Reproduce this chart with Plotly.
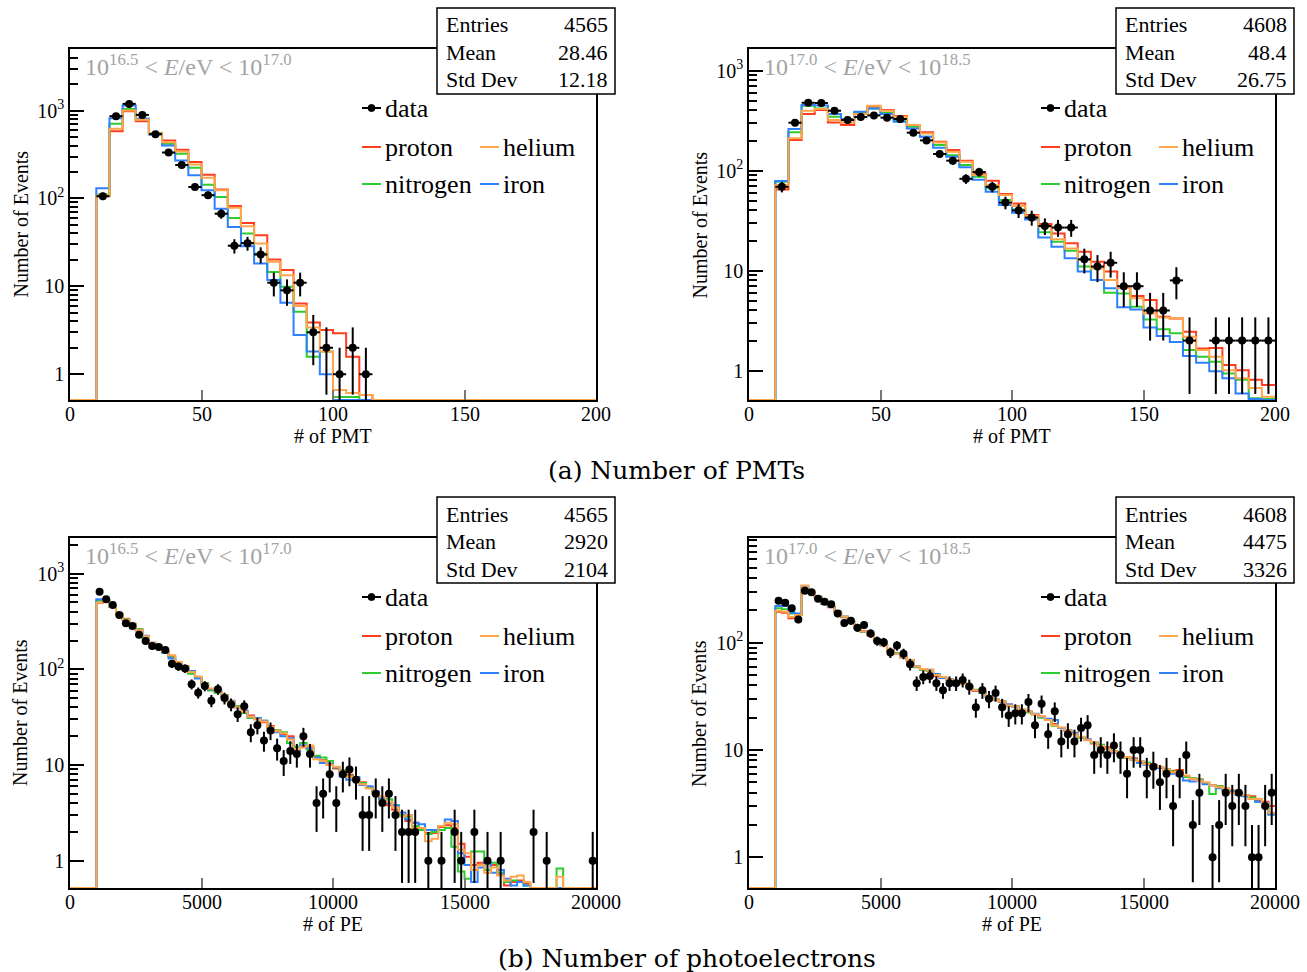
import numpy as np
import plotly.graph_objects as go

W, H = 1307, 972

# ---------------- data ----------------
# Number of PMTs, 10^16.5 < E < 10^17.0 ; bins of 5 starting at 10
pmt_lo_start = 10
pmt_lo_data = [106, 862, 1190, 892, 538, 333, 240, 135, 109, 67, 29, 31, 23, 11, 9, 11, 3, 2, 1, 2, 1]
pmt_lo_proton = [106, 583, 983, 757, 553, 456, 358, 259, 186, 126, 82, 52.6, 38.1, 20.2, 15.3, 6.4, 3.89, 3.18, 2.92, 1.58, 0.58]
pmt_lo_helium = [108, 620, 1000, 784, 543, 437, 343, 244, 172, 124, 78.5, 48.2, 30.7, 19, 13.4, 5.96, 3.41, 1.81, 0.66, 0.61, 0.58]
pmt_lo_nitrogen = [111, 706, 1044, 804, 553, 419, 322, 224, 143, 104, 60, 39.8, 23.6, 14.6, 9.9, 5.14, 1.58, 1.81, 0.55, 0.55]
pmt_lo_iron = [131, 818, 1140, 804, 534, 401, 271, 183, 124, 76.5, 47.4, 28.6, 18.2, 11.8, 6.5, 2.79, 1.81, 1.0]

# Number of PMTs, 10^17.0 < E < 10^18.5 ; bins of 5 starting at 10
pmt_hi_start = 10
pmt_hi_data = [69, 302, 478, 475, 398, 321, 344, 357, 339, 329, 240, 201, 147, 126, 83, 97, 69, 48, 40, 34,
               28, 27, 27, 13, 11, 12, 7, 7, 4, 4, 8, 2, 0, 2, 2, 2, 2, 2]
pmt_hi_proton = [65, 203, 369, 404, 304, 286, 369, 437, 404, 352, 286, 242, 195, 161, 126, 93, 79.5, 58.5, 47.1, 36,
                 29.3, 23.6, 18.8, 15.5, 12.3, 9.8, 6.9, 5.58, 5.09, 3.47, 3.33, 2.45, 1.67, 1.69, 1.14, 1.01, 0.81, 0.72]
pmt_hi_helium = [72, 211, 398, 413, 321, 302, 369, 447, 398, 347, 286, 236, 191, 155, 123, 90.5, 72, 57.1, 44.3, 35.2,
                 27.5, 20.6, 16.7, 12.8, 10.5, 8.07, 6.66, 5.29, 3.74, 3.41, 3.33, 2.19, 1.61, 1.38, 1.01, 0.84, 0.67, 0.55]
pmt_hi_nitrogen = [77.5, 242, 447, 420, 347, 321, 380, 420, 380, 321, 275, 219, 181, 143, 114, 87, 66.6, 50.9, 41, 34.1,
                   24.2, 19.5, 15.8, 11, 8.07, 6.03, 5.9, 4.37, 3.26, 2.59, 2.37, 1.61, 1.38, 1.23, 0.94, 0.81, 0.53, 0.52]
pmt_hi_iron = [79, 261, 454, 450, 369, 328, 389, 420, 369, 309, 265, 219, 170, 138, 108, 81, 61.6, 45.4, 38, 32.6,
               21.5, 17.4, 13.3, 9.8, 8.07, 6.66, 4.3, 4.1, 2.71, 2.22, 1.94, 1.4, 1.2, 0.99, 0.84, 0.59, 0.52, 0.5]

# Number of PE, 10^16.5 < E < 10^17.0 ; bins of 250 starting at 1000
pe_lo_start = 1000
pe_lo_data = [648, 540, 470, 370, 303, 284, 229, 198, 175, 171,
              159, 114, 107, 102, 70, 57, 67, 47, 62, 50,
              43, 34, 41, 22, 26, 18, 23, 15, 11, 14,
              13, 20, 13, 4, 5, 8, 4, 8, 9, 7,
              3, 3, 5, 4, 5, 3, 2, 2, 2, 0,
              1, 0, 1, 0, 2, 1, 0, 2, 0, 1,
              0, 1, 0, 0, 0, 0, 2, 0, 1, 0,
              0, 0, 0, 0, 0, 1]
pe_lo_proton = [495, 515, 455, 380, 338, 300, 262, 218, 186, 170,
                152, 136, 118, 106, 92, 81, 72, 62, 58, 52,
                46, 41, 36.5, 33, 31, 28, 25.5, 23, 21, 20,
                15.5, 15.3, 15.8, 12.2, 11.2, 10.3, 9.2, 8.6, 7.9, 7.3,
                6.6, 5.9, 5.2, 4.4, 3.8, 3.4, 3.0, 2.6, 2.5, 2.2,
                1.95, 1.95, 2.25, 2.35, 2.2, 1.5, 1.1, 0.9, 0.95, 0.8,
                0.9, 0.72, 0.55, 0.6, 0.62, 0.58, 0.52, 0, 0, 0,
                0, 0, 0, 0, 0, 0]
pe_lo_helium = [500, 518, 450, 378, 332, 298, 256, 222, 190, 175,
                155, 140, 119, 108, 94, 84, 70, 63, 59, 53,
                46, 40, 36, 32, 30, 28.5, 25, 22.5, 21.5, 18.5,
                14.5, 15.5, 16.0, 11.5, 11.0, 10.0, 9.6, 8.6, 7.5, 7.1,
                6.3, 5.7, 5.0, 4.7, 4.1, 3.6, 2.9, 3.0, 2.2, 2.2,
                1.6, 1.7, 2.3, 2.5, 2.4, 1.3, 1.2, 0.8, 0.9, 0.75,
                0.85, 0.7, 0.62, 0.68, 0.7, 0.6, 0.5, 0, 0, 0,
                0.68, 0, 0, 0, 0, 0]
pe_lo_nitrogen = [520, 520, 450, 375, 335, 296, 262, 215, 188, 172,
                  150, 133, 117, 105, 90, 83, 72, 60, 57, 54,
                  45, 41, 35, 31, 30, 29, 24, 23, 22, 17,
                  15.5, 17, 14.5, 12.5, 12.0, 11.0, 9.4, 8.8, 7.6, 7.0,
                  6.5, 5.8, 5.1, 4.4, 4.4, 3.8, 3.0, 2.9, 2.3, 2.1,
                  1.9, 2.0, 2.1, 2.2, 1.4, 0.77, 0.65, 1.25, 1.25, 0.8,
                  0.95, 0.75, 0.6, 0.62, 0.6, 0.55, 0.52, 0, 0, 0,
                  0.83, 0, 0, 0, 0, 0]
pe_lo_iron = [540, 525, 448, 376, 330, 295, 255, 224, 190, 176,
              150, 130, 115, 108, 96, 80, 70, 62, 60, 52,
              47, 40, 37, 32, 31, 29, 25, 22, 20, 19,
              14, 16, 15, 12, 10.5, 10.2, 9.5, 7.6, 7.0, 7.5,
              6.2, 6.0, 5.3, 4.5, 4.0, 3.8, 3.2, 2.7, 2.5, 2.4,
              2.1, 2.1, 2.3, 2.7, 2.6, 1.2, 0.9, 0.6, 0.85, 0.95,
              0.75, 0.8, 0.65, 0.55, 0.6, 0.55, 0.5, 0, 0, 0,
              0, 0, 0, 0, 0, 0]

# Number of PE, 10^17.0 < E < 10^18.5 ; bins of 250 starting at 1000
pe_hi_start = 1000
pe_hi_data = [246, 236, 209, 165, 305, 296, 257, 241, 228, 187,
              153, 160, 138, 146, 122, 104, 101, 81, 94, 79,
              63, 42, 48, 49, 42, 36, 42, 42, 45, 39,
              25, 36, 30, 34, 25, 21, 22, 22, 28, 17,
              27, 14, 23, 12, 14, 12, 16, 17, 9, 10,
              9, 11, 9, 6, 10, 10, 6, 7, 5, 6,
              3, 6, 9, 2, 4, 0, 1, 2, 4, 3,
              4, 3, 1, 1, 3, 4]
pe_hi_proton = [194, 190, 169, 181, 336, 300, 266, 230, 214, 192,
                173, 155, 138, 128, 117, 105, 94, 86, 80, 73,
                68, 60, 56, 55, 49, 47, 45, 43, 41.5, 39,
                35.5, 34, 31, 29.5, 28, 26.5, 25.5, 23.5, 22.5, 21.5,
                20.5, 19.5, 17.5, 16, 15, 14.5, 13, 12.5, 11.5, 11,
                10.6, 9.5, 9.2, 8.5, 8.4, 7.8, 7.5, 7.3, 6.8, 6.6,
                6.4, 6.5, 5.6, 5.4, 5.3, 4.9, 4.7, 4.6, 4.3, 4.2,
                4.0, 3.8, 3.7, 3.4, 3.3, 3.0]
pe_hi_helium = [199, 194, 174, 181, 342, 302, 268, 233, 217, 195,
                176, 158, 140, 127, 118, 107, 96, 85, 79, 74,
                69, 60, 57, 56, 50, 48, 45.5, 43.5, 42, 39,
                36, 34.5, 31.5, 29.5, 28.5, 26, 25.5, 24, 23, 21.5,
                20.5, 19, 17, 16.2, 15.2, 14, 13.3, 12.3, 11.8, 10.9,
                10.3, 9.7, 9.0, 8.6, 8.1, 7.9, 7.4, 7.1, 7.0, 6.5,
                6.2, 6.0, 5.8, 5.4, 5.2, 5.0, 4.7, 4.5, 4.4, 4.0,
                3.9, 3.8, 3.5, 3.5, 3.2, 2.6]
pe_hi_nitrogen = [209, 205, 187, 181, 332, 298, 270, 233, 216, 194,
                  175, 157, 140, 126, 118, 106, 95, 85, 80, 74,
                  69, 59, 56, 55, 50, 48, 45, 43, 42, 39,
                  36.5, 34, 31.5, 29.5, 28.5, 26, 25.5, 23.5, 22.5, 21.5,
                  20, 19, 16.8, 16, 15.4, 14.2, 13, 12.4, 11.6, 11.2,
                  10.2, 9.8, 8.9, 8.5, 8.1, 7.6, 7.6, 7.0, 6.8, 6.6,
                  6.3, 6.0, 5.6, 5.5, 5.3, 4.9, 3.9, 4.6, 4.4, 4.1,
                  3.9, 3.8, 3.6, 3.3, 3.2, 2.5]
pe_hi_iron = [220, 220, 190, 187, 330, 297, 266, 229, 215, 196,
              176, 158, 139, 127, 119, 106, 96, 85, 79, 75,
              69, 60, 57, 56, 51, 47, 46, 43.5, 42, 38.5,
              36, 34.5, 31.5, 29.5, 28.5, 26.5, 25.3, 23.8, 23, 21.8,
              20.3, 19.6, 19.0, 16, 15.2, 14.4, 13.2, 12.5, 11.8, 10.8,
              10.3, 9.5, 9.0, 8.6, 8.2, 7.6, 7.3, 7.2, 6.8, 6.4,
              6.0, 5.8, 5.2, 5.1, 5.2, 4.8, 4.7, 4.4, 4.2, 4.1,
              3.8, 3.7, 3.5, 3.3, 3.2, 2.5]

stats_labels = ["Entries", "Mean", "Std Dev"]
stats_pmt_lo = ["4565", "28.46", "12.18"]
stats_pmt_hi = ["4608", "48.4", "26.75"]
stats_pe_lo = ["4565", "2920", "2104"]
stats_pe_hi = ["4608", "4475", "3326"]

energy_lo = "10<sup>16.5</sup> &lt; <i>E</i>/eV &lt; 10<sup>17.0</sup>"
energy_hi = "10<sup>17.0</sup> &lt; <i>E</i>/eV &lt; 10<sup>18.5</sup>"

pmt_ticks = [0, 50, 100, 150, 200]
pmt_ticktext = ["0", "50", "100", "150", "200"]
pe_ticks = [0, 5000, 10000, 15000, 20000]
pe_ticktext = ["0", "5000", "10000", "15000", "20000"]
y_tickvals = [1, 10, 100, 1000]
y_ticktext = ["1", "10", "10<sup>2</sup>", "10<sup>3</sup>"]

captions = ["(a) Number of PMTs", "(b) Number of photoelectrons"]

# ---------------- style ----------------
COL = {"proton": "#ff3d1f", "helium": "#ffa64d", "nitrogen": "#2ecc2e", "iron": "#2f80ff"}
FONT = "Liberation Serif"

panels = [
    dict(px0=70, px1=596, py0=49, py1=400, xr=[0, 200], yr=[-0.293, 3.70], bw=5, start=pmt_lo_start,
         data=pmt_lo_data, mc=dict(proton=pmt_lo_proton, helium=pmt_lo_helium, nitrogen=pmt_lo_nitrogen, iron=pmt_lo_iron),
         stats=stats_pmt_lo, energy=energy_lo, xt=pmt_ticks, xtt=pmt_ticktext, xtitle="# of PMT"),
    dict(px0=749, px1=1275, py0=49, py1=400, xr=[0, 200], yr=[-0.293, 3.217], bw=5, start=pmt_hi_start,
         data=pmt_hi_data, mc=dict(proton=pmt_hi_proton, helium=pmt_hi_helium, nitrogen=pmt_hi_nitrogen, iron=pmt_hi_iron),
         stats=stats_pmt_hi, energy=energy_hi, xt=pmt_ticks, xtt=pmt_ticktext, xtitle="# of PMT"),
    dict(px0=70, px1=596, py0=538, py1=888, xr=[0, 20000], yr=[-0.285, 3.372], bw=250, start=pe_lo_start,
         data=pe_lo_data, mc=dict(proton=pe_lo_proton, helium=pe_lo_helium, nitrogen=pe_lo_nitrogen, iron=pe_lo_iron),
         stats=stats_pe_lo, energy=energy_lo, xt=pe_ticks, xtt=pe_ticktext, xtitle="# of PE"),
    dict(px0=749, px1=1275, py0=538, py1=888, xr=[0, 20000], yr=[-0.286, 2.976], bw=250, start=pe_hi_start,
         data=pe_hi_data, mc=dict(proton=pe_hi_proton, helium=pe_hi_helium, nitrogen=pe_hi_nitrogen, iron=pe_hi_iron),
         stats=stats_pe_hi, energy=energy_hi, xt=pe_ticks, xtt=pe_ticktext, xtitle="# of PE"),
]

def px(x):
    return x / W

def py(y):
    return 1 - y / H

fig = go.Figure()
layout = dict(width=W, height=H, margin=dict(l=0, r=0, t=0, b=0), paper_bgcolor="white",
              plot_bgcolor="white", showlegend=False)
shapes, annots = [], []

draw_order = ["proton", "nitrogen", "iron", "helium"]

for i, p in enumerate(panels):
    n = "" if i == 0 else str(i + 1)
    xa, ya = "x" + n, "y" + n
    ymin = 10 ** p["yr"][0]
    bw, start = p["bw"], p["start"]
    nb = int(round((p["xr"][1] - start) / bw))
    edges = [start + k * bw for k in range(nb + 1)]
    for name in draw_order:
        vals = list(p["mc"][name]) + [0] * (nb - len(p["mc"][name]))
        vc = [max(v, ymin) for v in vals]
        xs = [p["xr"][0]] + edges
        ys = [ymin] + vc + [vc[-1]]
        fig.add_trace(go.Scatter(x=xs, y=ys, mode="lines", xaxis=xa, yaxis=ya,
                                 line=dict(color=COL[name], width=2, shape="hv"), hoverinfo="skip"))
    d = p["data"]
    xc = [start + (k + 0.5) * bw for k in range(len(d)) if d[k] > 0]
    yv = [v for v in d if v > 0]
    err = [np.sqrt(v) for v in yv]
    errm = [v - max(v - e, ymin * 0.3) for v, e in zip(yv, err)]
    fig.add_trace(go.Scatter(x=xc, y=yv, mode="markers", xaxis=xa, yaxis=ya,
                             marker=dict(color="black", size=8),
                             error_x=dict(type="constant", value=bw / 2, color="black", thickness=2, width=0),
                             error_y=dict(type="data", array=err, arrayminus=errm, color="black", thickness=2, width=0),
                             hoverinfo="skip"))

    lo, hi = p["yr"]
    minor_vals = [m * 10 ** e for e in range(0, 4) for m in range(2, 10) if lo <= np.log10(m * 10 ** e) <= hi]
    layout["xaxis" + n] = dict(domain=[px(p["px0"]), px(p["px1"])], anchor=ya, range=p["xr"],
                               showline=True, mirror=True, linecolor="black", linewidth=1.5,
                               ticks="inside", ticklen=10, tickwidth=1.5, tickcolor="#777",
                               tickmode="array", tickvals=p["xt"], showticklabels=False,
                               showgrid=False, zeroline=False)
    layout["yaxis" + n] = dict(domain=[py(p["py1"]), py(p["py0"])], anchor=xa, type="log", range=p["yr"],
                               showline=True, mirror=True, linecolor="black", linewidth=1.5,
                               ticks="inside", ticklen=14, tickwidth=1.5, tickcolor="black",
                               tickmode="array", tickvals=y_tickvals, ticktext=y_ticktext,
                               showgrid=False, zeroline=False,
                               tickfont=dict(family=FONT, size=20, color="black"),
                               minor=dict(ticks="inside", ticklen=8, tickwidth=1.5, tickcolor="black",
                                          tickmode="array", tickvals=minor_vals, showgrid=False))

    x0, y0, x1, y1 = p["px0"], p["py0"], p["px1"], p["py1"]
    # x tick labels
    for v, t in zip(p["xt"], p["xtt"]):
        xx = x0 + (v - p["xr"][0]) / (p["xr"][1] - p["xr"][0]) * (x1 - x0)
        annots.append(dict(x=px(xx), y=py(y1 + 14), xref="paper", yref="paper", text=t, showarrow=False,
                           xanchor="center", yanchor="middle", font=dict(family=FONT, size=20, color="black")))
    # energy label
    annots.append(dict(x=px(x0 + 13), y=py(y0 + 16), xref="paper", yref="paper", text=p["energy"],
                       showarrow=False, xanchor="left", yanchor="middle",
                       font=dict(family=FONT, size=24, color="#a3a3a3")))
    # stats box
    shapes.append(dict(type="rect", xref="paper", yref="paper", x0=px(x0 + 367), x1=px(x0 + 545),
                       y0=py(y0 + 45), y1=py(y0 - 41), fillcolor="white",
                       line=dict(color="black", width=1.5), layer="above"))
    for r, (lab, val) in enumerate(zip(stats_labels, p["stats"])):
        yy = py(y0 - 24 + 27.5 * r)
        annots.append(dict(x=px(x0 + 374), y=yy, xref="paper", yref="paper", text=lab, showarrow=False,
                           xanchor="left", yanchor="middle", font=dict(family=FONT, size=22, color="black")))
        annots.append(dict(x=px(x0 + 540), y=yy, xref="paper", yref="paper", text=val, showarrow=False,
                           xanchor="right", yanchor="middle", font=dict(family=FONT, size=22, color="black")))
    # legend
    leg = [("data", "black", 292, 59), ("proton", COL["proton"], 292, 98), ("helium", COL["helium"], 410, 98),
           ("nitrogen", COL["nitrogen"], 292, 135), ("iron", COL["iron"], 410, 135)]
    for lab, c, lx, ly in leg:
        shapes.append(dict(type="line", xref="paper", yref="paper", x0=px(x0 + lx), x1=px(x0 + lx + 19),
                           y0=py(y0 + ly), y1=py(y0 + ly), line=dict(color=c, width=2), layer="above"))
        if lab == "data":
            cx = x0 + lx + 9.5
            shapes.append(dict(type="circle", xref="paper", yref="paper", x0=px(cx - 3.5), x1=px(cx + 3.5),
                               y0=py(y0 + ly - 3.5), y1=py(y0 + ly + 3.5), fillcolor="black",
                               line=dict(color="black", width=1), layer="above"))
        annots.append(dict(x=px(x0 + lx + 21), y=py(y0 + ly), xref="paper", yref="paper", text=lab,
                           showarrow=False, xanchor="left", yanchor="middle",
                           font=dict(family=FONT, size=26, color="black")))
    # axis titles
    annots.append(dict(x=px((x0 + x1) / 2), y=py(y1 + 36), xref="paper", yref="paper", text=p["xtitle"],
                       showarrow=False, xanchor="center", yanchor="middle",
                       font=dict(family=FONT, size=20, color="black")))
    annots.append(dict(x=px(x0 - 50), y=py((y0 + y1) / 2), xref="paper", yref="paper", text="Number of Events",
                       showarrow=False, xanchor="center", yanchor="middle", textangle=-90,
                       font=dict(family=FONT, size=20, color="black")))

annots.append(dict(x=px(676), y=py(470), xref="paper", yref="paper", text=captions[0], showarrow=False,
                   xanchor="center", yanchor="middle", font=dict(family="DejaVu Serif", size=25, color="black")))
annots.append(dict(x=px(687), y=py(958), xref="paper", yref="paper", text=captions[1], showarrow=False,
                   xanchor="center", yanchor="middle", font=dict(family="DejaVu Serif", size=25, color="black")))

layout["shapes"] = shapes
layout["annotations"] = annots
fig.update_layout(**layout)
fig.write_html("out.html")
